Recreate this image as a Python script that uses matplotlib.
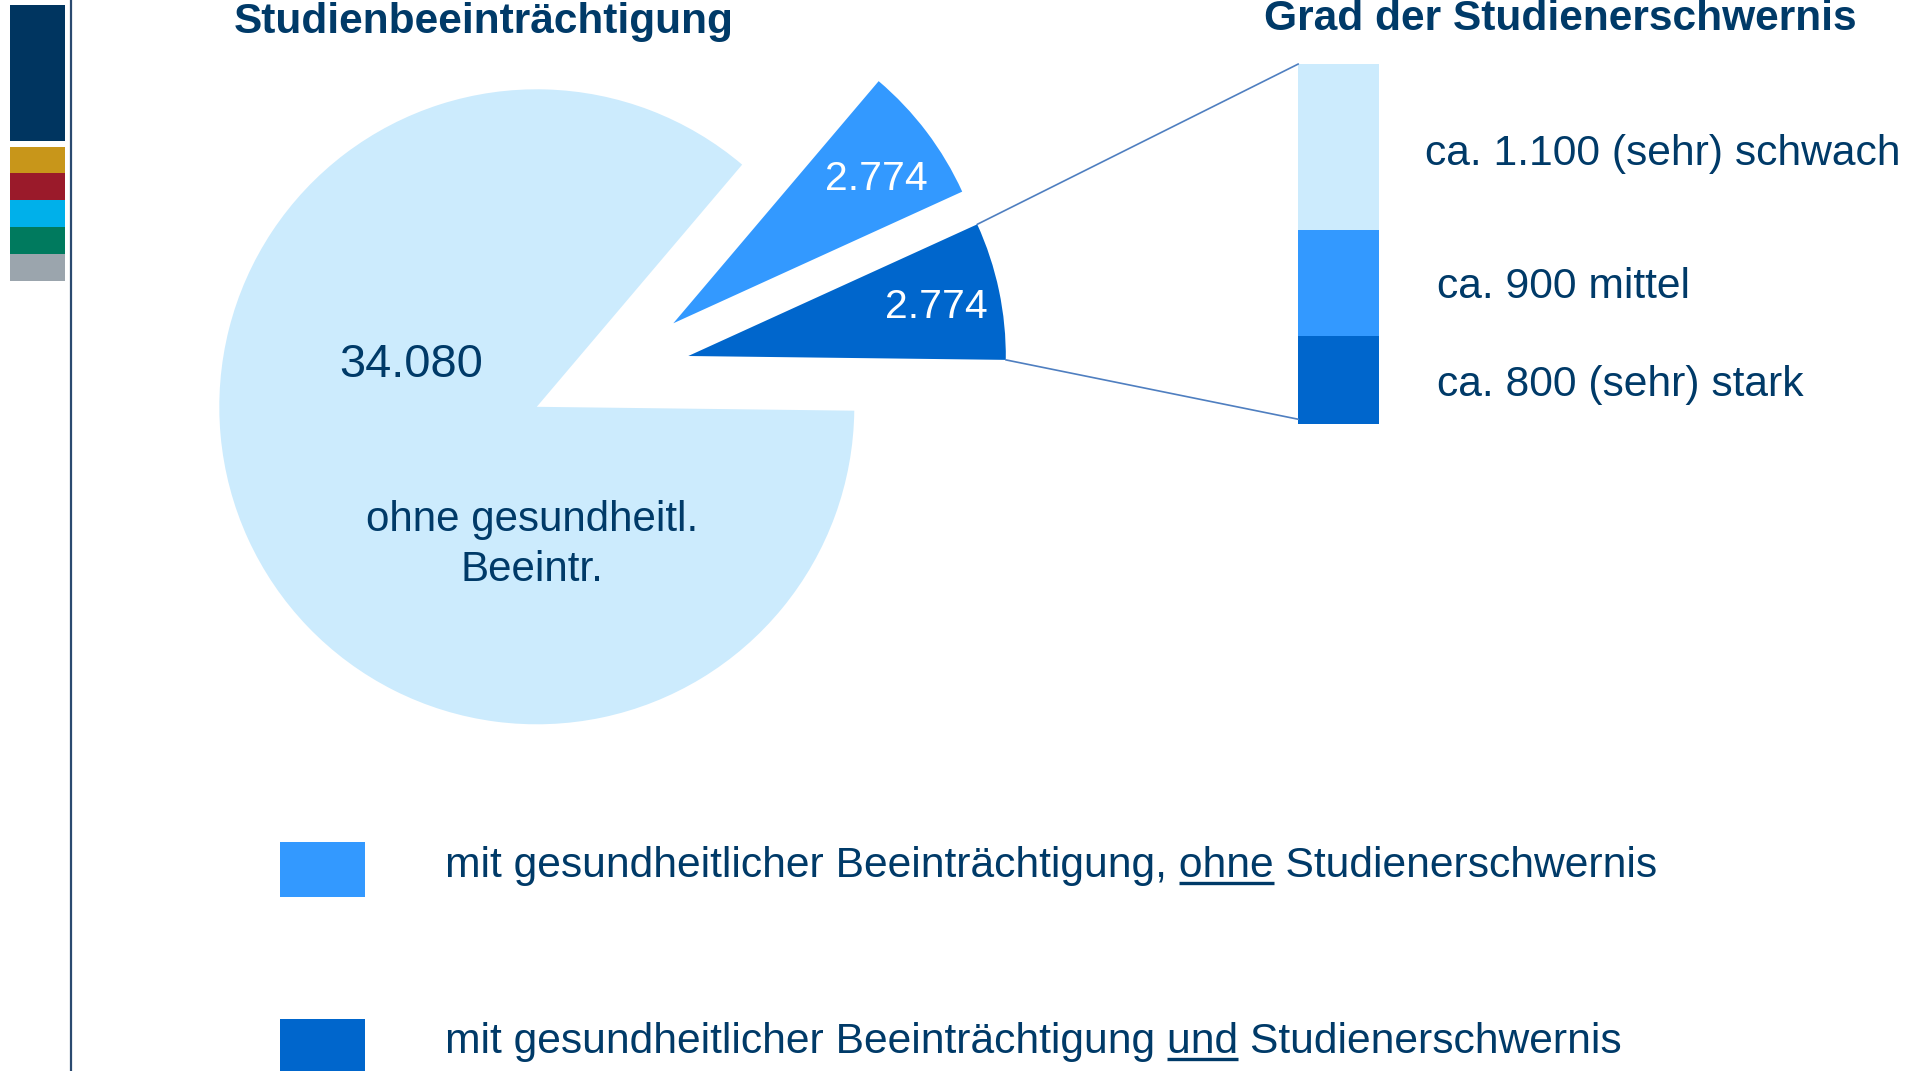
import matplotlib
matplotlib.use("Agg")
import matplotlib.pyplot as plt
from matplotlib.patches import Rectangle, ConnectionPatch
import numpy as np

plt.rcParams['font.family'] = ['Liberation Sans', 'DejaVu Sans']

# ---------------- data ----------------
pie_categories = ["mit gesundheitlicher Beeinträchtigung und Studienerschwernis",
                  "mit gesundheitlicher Beeinträchtigung, ohne Studienerschwernis",
                  "ohne gesundheitl. Beeintr."]
pie_values = [2774, 2774, 34080]
pie_value_labels = ["2.774", "2.774", "34.080"]

grad_categories = ["(sehr) stark", "mittel", "(sehr) schwach"]
grad_values = [680, 816, 1278]          # segment sizes as drawn in the bar
grad_labels = ["ca. 800 (sehr) stark", "ca. 900 mittel", "ca. 1.100 (sehr) schwach"]

title_left = "Studienbeeinträchtigung"
title_right = "Grad der Studienerschwernis"
big_label = ["ohne gesundheitl.", "Beeintr."]
legend_parts = [("mit gesundheitlicher Beeinträchtigung, ", "ohne", " Studienerschwernis"),
                ("mit gesundheitlicher Beeinträchtigung ", "und", " Studienerschwernis")]

# ---------------- style ----------------
W, H = 1923, 1071
NAVY = "#003A68"
LIGHT = "#CCEBFD"
MED = "#3399FF"
DARK = "#0066CC"
LINEC = "#4F7FC0"
deco_colors = ["#003560", "#C8961A", "#9A1A2A", "#00B0EA", "#007A5E", "#9BA5AD"]
deco_spans = [(5, 141), (147, 173), (173, 200), (200, 227), (227, 254), (254, 281)]

fig = plt.figure(figsize=(W / 100, H / 100), dpi=100)
ax = fig.add_axes([0, 0, 1, 1])

def iy(y):
    return H - y

# ---------------- pie ----------------
cx, cy, R = 536.8, iy(406.8), 317.5
offsets = [(151.5, 50.8), (136.5, 83.5), (0.0, 0.0)]
wedges, _ = ax.pie(pie_values, colors=[DARK, MED, LIGHT], startangle=-0.7,
                   counterclock=True, center=(cx, cy), radius=R,
                   wedgeprops=dict(linewidth=0), normalize=True)
for w, (dx, dy) in zip(wedges, offsets):
    w.set_center((cx + dx, cy + dy))
    w.set_zorder(3)

ax.set_xlim(0, W)
ax.set_ylim(0, H)
ax.set_aspect('auto')
ax.axis('off')

# pie labels
ax.text(936.7, iy(318.3), pie_value_labels[0], color="white", fontsize=29.5,
        ha='center', va='baseline', zorder=5)
ax.text(876.7, iy(190), pie_value_labels[1], color="white", fontsize=29.5,
        ha='center', va='baseline', zorder=5)
ax.text(411, iy(377.3), pie_value_labels[2], color=NAVY, fontsize=33.8,
        ha='center', va='baseline', zorder=5)
ax.text(531.7, iy(530.7), big_label[0], color=NAVY, fontsize=30.3,
        ha='center', va='baseline', zorder=5)
ax.text(531.7, iy(580.7), big_label[1], color=NAVY, fontsize=30.3,
        ha='center', va='baseline', zorder=5)

# titles
ax.text(484, iy(33), title_left, color=NAVY, fontsize=30.5, fontweight='bold',
        ha='center', va='baseline')
ax.text(1560, iy(29.5), title_right, color=NAVY, fontsize=30.6, fontweight='bold',
        ha='center', va='baseline')

# ---------------- stacked bar ----------------
bx0, bx1, by_top, by_bot = 1298.3, 1379.0, 64.0, 424.3
bax = fig.add_axes([bx0 / W, iy(by_bot) / H, (bx1 - bx0) / W, (by_bot - by_top) / H])
bottom = 0
for v, c in zip(grad_values, [DARK, MED, LIGHT]):
    bax.bar([0], [v], bottom=bottom, width=1.0, color=c, linewidth=0)
    bottom += v
bax.set_xlim(-0.5, 0.5)
bax.set_ylim(0, sum(grad_values))
bax.axis('off')

label_pos = [(1436.7, 396.0), (1436.7, 298.3), (1425.0, 165.0)]
for (x, y), s in zip(label_pos, grad_labels):
    ax.text(x, iy(y), s, color=NAVY, fontsize=30.7, ha='left', va='baseline')

# connector lines from the dark wedge to the bar
dw = wedges[0]
wc = dw.center
t1, t2 = np.deg2rad(dw.theta1), np.deg2rad(dw.theta2)
p_top = (wc[0] + dw.r * np.cos(t2), wc[1] + dw.r * np.sin(t2))
p_bot = (wc[0] + dw.r * np.cos(t1), wc[1] + dw.r * np.sin(t1))
for pa, pb in [(p_top, (0.0, 1.0)), (p_bot, (0.0, 0.014))]:
    con = ConnectionPatch(xyA=pa, coordsA=ax.transData, xyB=pb, coordsB=bax.transAxes,
                          color=LINEC, lw=1.2, zorder=1)
    fig.add_artist(con)

# ---------------- decoration on the left ----------------
for (y0, y1), c in zip(deco_spans, deco_colors):
    ax.add_patch(Rectangle((10, iy(y1)), 55, y1 - y0, facecolor=c, edgecolor='none'))
ax.plot([71, 71], [0, H], color="#2B4A70", lw=1.6)

# ---------------- legend ----------------
key_spans = [(842.3, 896.7), (1019.0, 1073.4)]
key_colors = [MED, DARK]
for (y0, y1), c in zip(key_spans, key_colors):
    ax.add_patch(Rectangle((280, iy(y1)), 85, y1 - y0, facecolor=c, edgecolor='none'))

renderer = fig.canvas.get_renderer()
def text_width(s, fs):
    t = ax.text(0, 0, s, fontsize=fs)
    w = t.get_window_extent(renderer=renderer).width
    t.remove()
    return w

leg_base = [877.3, 1053.3]
fs_leg = 30.7
for (pre, und, post), yb in zip(legend_parts, leg_base):
    x0 = 445
    ax.text(x0, iy(yb), pre + und + post, color=NAVY, fontsize=fs_leg,
            ha='left', va='baseline')
    w_all = text_width(pre + und, fs_leg)
    w_u = text_width(und, fs_leg)
    xs, xe = x0 + w_all - w_u, x0 + w_all
    ax.plot([xs, xe], [iy(yb + 5.5), iy(yb + 5.5)], color=NAVY, lw=2.4,
            solid_capstyle='butt')

fig.savefig("out.png", dpi=100)
